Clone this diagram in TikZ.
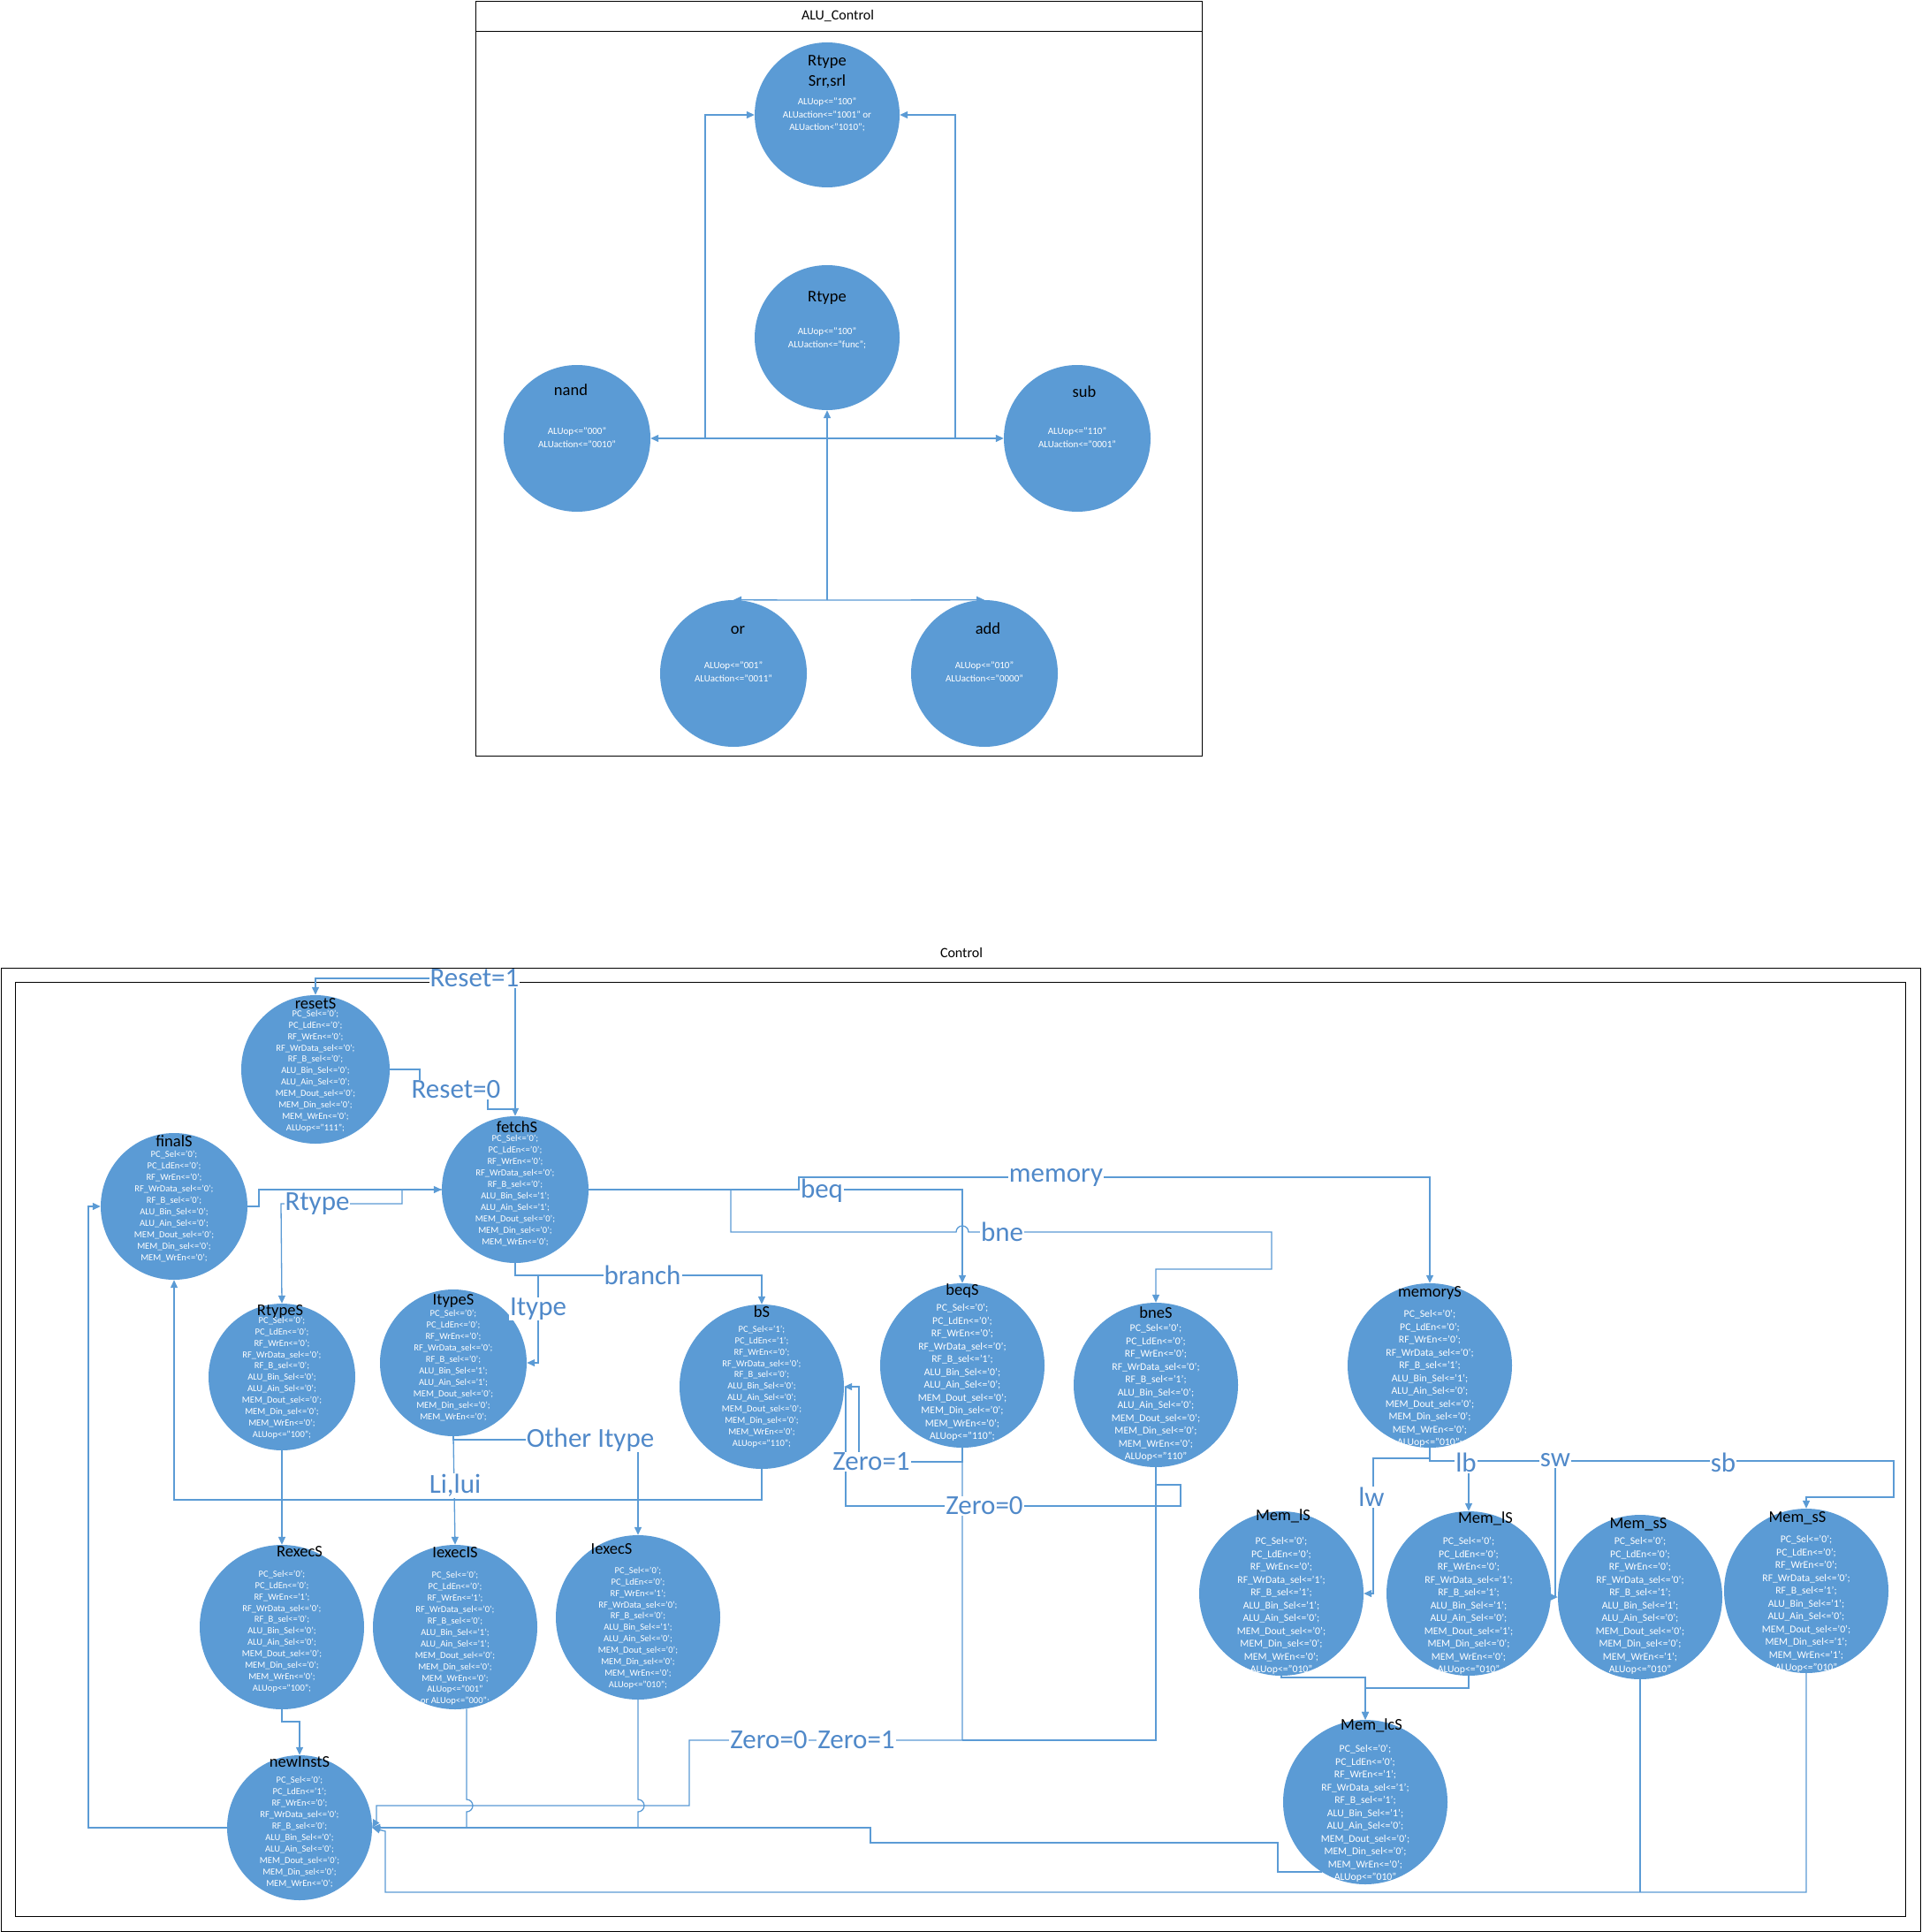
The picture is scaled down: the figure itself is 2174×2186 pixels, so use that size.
\documentclass[tikz,border=0pt]{standalone}
\usepackage{fontspec}
\setmainfont{Carlito}
\usetikzlibrary{arrows.meta,calc}
\definecolor{cblue}{HTML}{5B9BD5}
\definecolor{lblue}{HTML}{5B9BD5}
\definecolor{tblue}{HTML}{5089C9}
\newcommand\sg[2]{#1<='#2';}
\newcommand\sigs[9]{\sg{PC\_Sel}{#1}\\\sg{PC\_LdEn}{#2}\\\sg{RF\_WrEn}{#3}\\\sg{RF\_WrData\_sel}{#4}\\\sg{RF\_B\_sel}{#5}\\\sg{ALU\_Bin\_Sel}{#6}\\\sg{ALU\_Ain\_Sel}{#7}\\\sg{MEM\_Dout\_sel}{#8}\\\sg{MEM\_Din\_sel}{#9}}
\newcommand\mkstate[8]{%
  \node[st=#3] (#1) at (#2) {};
  \node[#6] (#1-b) at ($(#2)+(0,#7)$) {#8};
  \node[ttl] (#1-t) at (#5) {#4};
}
\begin{document}
\begin{tikzpicture}[x=1pt,y=-1pt,
  st/.style={circle,fill=cblue,draw=none,inner sep=0pt,minimum size=#1},
  ttl/.style={inner sep=0pt,text=black,align=center,font=\fontsize{18.5}{23}\selectfont},
  bsm/.style={inner sep=0pt,text=white,align=center,font=\fontsize{10.5}{12.9}\selectfont},
  blg/.style={inner sep=0pt,text=white,align=center,font=\fontsize{11.7}{14.5}\selectfont},
  abody/.style={inner sep=0pt,text=white,align=center,font=\fontsize{11}{14.5}\selectfont},
  ln/.style={draw=lblue,line width=1.3pt},
  arr/.style={ln,-{Triangle[length=9pt,width=8pt]}},
  darr/.style={ln,{Triangle[length=9pt,width=8pt]}-{Triangle[length=9pt,width=8pt]}},
  lbl/.style={fill=white,inner sep=1pt,text=tblue,font=\fontsize{31}{31}\selectfont},
  frm/.style={draw=black,line width=0.9pt},
  ftitle/.style={inner sep=0pt,font=\fontsize{16}{16}\selectfont}]
\useasboundingbox (0,0) rectangle (2174,2186);
\fill[white] (0,0) rectangle (2174,2186);

% ================= ALU_Control =================
\draw[frm] (538,1) rectangle (1360,855);
\draw[frm] (538,35) -- (1360,35);
\node[ftitle] (aluT) at (948,18) {ALU\_Control};

\node[st=164] (aSrr) at (936,130) {};
\node[abody] (aSrr-b) at (936,130) {ALUop<="100"\\ALUaction<="1001" or\\ALUaction<"1010";};
\node[ttl] (aSrr-t) at (936,81) {Rtype\\Srr,srl};

\node[st=164] (aR) at (936,382) {};
\node[abody] (aR-b) at (936,383) {ALUop<="100"\\ALUaction<="func";};
\node[ttl] (aR-t) at (936,337) {Rtype};

\node[st=166] (aNand) at (653,496) {};
\node[abody] (aNand-b) at (653,495) {ALUop<="000"\\ALUaction<="0010"};
\node[ttl] (aNand-t) at (646,441) {nand};

\node[st=166] (aSub) at (1219,496) {};
\node[abody] (aSub-b) at (1219,495) {ALUop<="110"\\ALUaction<="0001"};
\node[ttl] (aSub-t) at (1227,443) {sub};

\node[st=166] (aOr) at (830,762) {};
\node[abody] (aOr-b) at (830,760) {ALUop<="001"\\ALUaction<="0011"};
\node[ttl] (aOr-t) at (835,713) {or};

\node[st=166] (aAdd) at (1114,762) {};
\node[abody] (aAdd-b) at (1114,760) {ALUop<="010"\\ALUaction<="0000"};
\node[ttl] (aAdd-t) at (1118,711) {add};

\coordinate (aJ) at (936,679);
\coordinate (aJL) at (798,496);
\coordinate (aJR) at (1081,496);
\draw[arr] (aJ) -- (aR.south);
\draw[arr] (aJ) -- (aOr.north);
\draw[arr] (aJ) -- (aAdd.north);
\draw[darr] (aNand.east) -- (aSub.west);
\draw[arr] (aJL) -- (798,130) -- (aSrr.west);
\draw[arr] (aJR) -- (1081,130) -- (aSrr.east);

% ================= Control =================
\node[ftitle] (ctlT) at (1088,1078) {Control};
\draw[frm] (1,1095) rectangle (2173,2185);
\draw[frm] (17,1111) rectangle (2156,2168);

\mkstate{resetS}{357,1210}{168}{resetS}{357,1136}{bsm}{2}{\sigs{0}{0}{0}{0}{0}{0}{0}{0}{0}\\\sg{MEM\_WrEn}{0}\\ALUop<="111";}
\mkstate{fetchS}{583,1346}{166}{fetchS}{585,1275}{bsm}{1}{\sigs{0}{0}{0}{0}{0}{1}{1}{0}{0}\\\sg{MEM\_WrEn}{0}}
\mkstate{finalS}{197,1365}{166}{finalS}{197,1291}{bsm}{0}{\sigs{0}{0}{0}{0}{0}{0}{0}{0}{0}\\\sg{MEM\_WrEn}{0}}
\mkstate{RtypeS}{319,1558}{166}{RtypeS}{317,1484}{bsm}{1}{\sigs{0}{0}{0}{0}{0}{0}{0}{0}{0}\\\sg{MEM\_WrEn}{0}\\ALUop<="100";}
\mkstate{ItypeS}{513,1542}{166}{ItypeS}{513,1472}{bsm}{3}{\sigs{0}{0}{0}{0}{0}{1}{1}{0}{0}\\\sg{MEM\_WrEn}{0}}
\mkstate{bS}{862,1569}{186}{bS}{862,1484}{bsm}{0}{\sigs{1}{1}{0}{0}{0}{0}{0}{0}{0}\\\sg{MEM\_WrEn}{0}\\ALUop<="110";}
\mkstate{beqS}{1089,1545}{186}{beqS}{1089,1461}{blg}{8}{\sigs{0}{0}{0}{0}{1}{0}{0}{0}{0}\\\sg{MEM\_WrEn}{0}\\ALUop<="110";}
\mkstate{bneS}{1308,1567}{186}{bneS}{1308,1485}{blg}{9}{\sigs{0}{0}{0}{0}{1}{0}{0}{0}{0}\\\sg{MEM\_WrEn}{0}\\ALUop<="110"}
\mkstate{memoryS}{1618,1545}{186}{memoryS}{1618,1463}{blg}{15}{\sigs{0}{0}{0}{0}{1}{1}{0}{0}{0}\\\sg{MEM\_WrEn}{0}\\ALUop<="010";}
\mkstate{RexecS}{319,1841}{186}{RexecS}{339,1756}{bsm}{5}{\sigs{0}{0}{1}{0}{0}{0}{0}{0}{0}\\\sg{MEM\_WrEn}{0}\\ALUop<="100";}
\mkstate{IexecIS}{515,1841}{186}{IexecIS}{515,1757}{bsm}{13}{\sigs{0}{0}{1}{0}{0}{1}{1}{0}{0}\\\sg{MEM\_WrEn}{0}\\ALUop<="001"\\or ALUop<="000";}
\mkstate{IexecS}{722,1830}{186}{IexecS}{692,1753}{bsm}{12}{\sigs{0}{0}{1}{0}{0}{1}{0}{0}{0}\\\sg{MEM\_WrEn}{0}\\ALUop<="010";}
\mkstate{newInstS}{339,2068}{164}{newInstS}{339,1994}{bsm}{5}{\sigs{0}{1}{0}{0}{0}{0}{0}{0}{0}\\\sg{MEM\_WrEn}{0}}
\mkstate{MemlA}{1450,1803}{186}{Mem\_lS}{1452,1715}{blg}{14}{\sigs{0}{0}{0}{1}{1}{1}{0}{0}{0}\\\sg{MEM\_WrEn}{0}\\ALUop<="010"}
\mkstate{MemlB}{1662,1803}{186}{Mem\_lS}{1681,1718}{blg}{14}{\sigs{0}{0}{0}{1}{1}{1}{0}{1}{0}\\\sg{MEM\_WrEn}{0}\\ALUop<="010"}
\mkstate{MemsA}{1856,1807}{186}{Mem\_sS}{1854,1725}{blg}{10}{\sigs{0}{0}{0}{0}{1}{1}{0}{0}{0}\\\sg{MEM\_WrEn}{1}\\ALUop<="010"}
\mkstate{MemsB}{2044,1800}{186}{Mem\_sS}{2034,1718}{blg}{15}{\sigs{0}{0}{0}{0}{1}{1}{0}{0}{1}\\\sg{MEM\_WrEn}{1}\\ALUop<="010"}
\mkstate{Memlc}{1545,2039}{186}{Mem\_lcS}{1552,1952}{blg}{13}{\sigs{0}{0}{1}{1}{1}{1}{0}{0}{0}\\\sg{MEM\_WrEn}{0}\\ALUop<="010"}

% ---- connectors ----
% Reset=1
\draw[arr] (583,1107) -- (357,1107) -- (resetS.north);
\draw[arr] (583,1107) -- (fetchS.north);
% Reset=0
\draw[ln] (resetS.east) -- (475,1210) -- (475,1233) -- (552,1233) -- (552,1255) -- (583,1255);
% finalS -> fetchS
\draw[arr] (finalS.east) -- (293,1365) -- (293,1346) -- (fetchS.west);
% Rtype
\draw[arr] (fetchS.west) -- (455,1346) -- (455,1362) -- (318,1362) -- (RtypeS.north);
% branch / Itype
\draw[arr] (fetchS.south) -- (583,1443) -| (bS.north);
\draw[arr] (609,1443) -- (609,1542) -- (ItypeS.east);
% beq, bne, memory
\draw[arr] (fetchS.east) -| (beqS.north);
\draw[arr] (904,1346) -- (904,1332) -| (memoryS.north);
\draw[arr] (827,1346) -- (827,1394) -- (1082,1394) arc[start angle=180,end angle=360,radius=7] -- (1439,1394) -- (1439,1436) -| (bneS.north);
% Zero=1 / Zero=0 into bS
\draw[arr] (beqS.south) -- (1089,1654) -- (972,1654) -- (972,1569) -- (bS.east);
\draw[ln] (bneS.south) -- (1308,1680) -- (1336,1680) -- (1336,1704) -- (957,1704) -- (957,1569);
% Zero=0 Zero=1 into newInstS
\draw[arr] (beqS.south) -- (1089,1969) -- (780,1969) -- (780,2043) -- (426,2043) -- (426,2060) -- (newInstS.east);
\draw[ln] (bneS.south) -- (1308,1969) -- (1089,1969);
% bS -> finalS
\draw[arr] (bS.south) -- (862,1697) -- (197,1697) -- (finalS.south);
% RtypeS -> RexecS
\draw[arr] (RtypeS.south) -- (RexecS.north);
% ItypeS -> IexecIS / IexecS
\draw[arr] (ItypeS.south) -- (IexecIS.north);
\draw[arr] (ItypeS.south) -- (513,1629) -- (722,1629) -- (IexecS.north);
% exec -> newInstS
\draw[arr] (RexecS.south) -- (319,1948) -- (339,1948) -- (newInstS.north);
\draw[arr] (IexecIS.-82) -- (528,2036) arc[start angle=-90,end angle=90,radius=7] -- (528,2068) -- (newInstS.east);
\draw[arr] (IexecS.south) -- (722,2036) arc[start angle=-90,end angle=90,radius=7] -- (722,2068) -- (newInstS.east);
% newInstS -> finalS
\draw[arr] (newInstS.west) -- (100,2068) -- (100,1365) -- (finalS.west);
% memoryS branches
\draw[arr] (memoryS.south) -- (1618,1650) -- (1554,1650) -- (1554,1803) -- (MemlA.east);
\draw[arr] (memoryS.south) -- (1618,1653) -- (1662,1653) -- (MemlB.north);
\draw[arr] (1662,1653) -- (1760,1653) -- (1760,1807) -- (MemsA.west);
\draw[arr] (1760,1653) -- (2143,1653) -- (2143,1694) -- (2044,1694) -- (MemsB.north);
% loads -> Mem_lcS
\draw[arr] (MemlA.south) -- (1450,1898) -- (1545,1898) -- (Memlc.north);
\draw[arr] (MemlB.south) -- (1662,1910) -- (1545,1910) -- (Memlc.north);
% Mem_lcS -> newInstS
\draw[arr] (Memlc.238) -| (1446,2085) -- (985,2085) -- (985,2068) -- (newInstS.east);
% stores -> newInstS
\draw[arr] (MemsB.south) -- (2044,2141) -- (436,2141) -- (436,2072) -- (newInstS.east);
\draw[ln] (MemsA.south) -- (1856,2141);

% ---- labels ----
\node[lbl] (lR1) at (537,1107) {Reset=1};
\node[lbl] (lR0) at (516,1233) {Reset=0};
\node[lbl] (lRt) at (359,1362) {Rtype};
\node[lbl] (lbr) at (727,1443) {branch};
\node[lbl] (lIt) at (609,1481) {Itype};
\node[lbl] (lbeq) at (930,1347) {beq};
\node[lbl] (lmem) at (1195,1332) {memory};
\node[lbl] (lbne) at (1134,1394) {bne};
\node[lbl] (lz1) at (986,1654) {Zero=1};
\node[lbl] (lz0) at (1114,1704) {Zero=0};
\node[lbl] (lz0b) at (870,1969) {Zero=0};
\node[lbl] (lz1b) at (969,1969) {Zero=1};
\node[lbl] (lOI) at (668,1629) {Other Itype};
\node[lbl,anchor=south] (lLi) at (515,1695) {Li,lui};
\node[lbl] (llw) at (1552,1694) {lw};
\node[lbl] (llb) at (1659,1655) {lb};
\node[lbl] (lsw) at (1760,1652) {sw};
\node[lbl] (lsb) at (1950,1655) {sb};
\end{tikzpicture}
\end{document}
